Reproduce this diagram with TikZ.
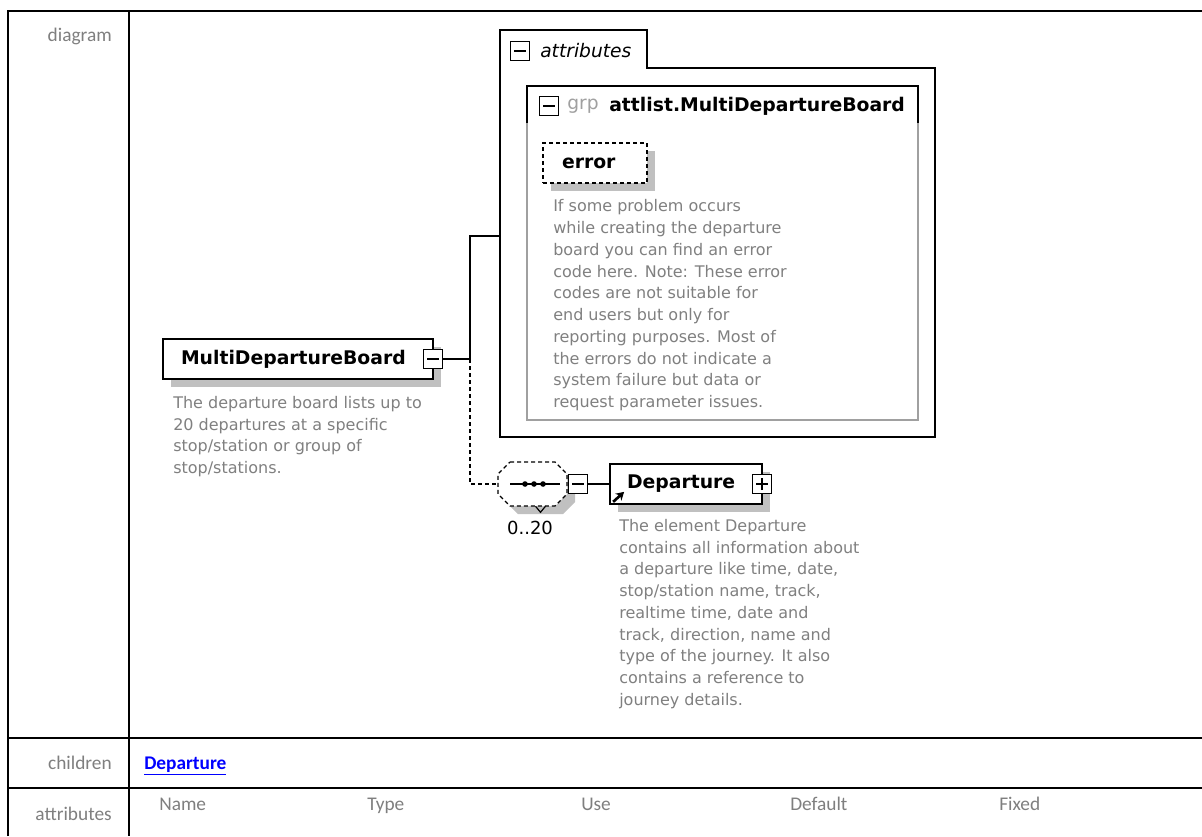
\documentclass[tikz,border=0pt]{standalone}
\usepackage{fontspec}
\setmainfont{DejaVu Sans}
\newfontfamily\tblfont{Carlito}
\usetikzlibrary{shadows,arrows.meta}
\definecolor{descgray}{HTML}{808080}
\definecolor{shgray}{HTML}{C0C0C0}
\definecolor{lblgray}{HTML}{7F7F7F}
\definecolor{grpgray}{HTML}{A0A0A0}
\definecolor{linkblue}{HTML}{0000FF}
\definecolor{frameline}{HTML}{A0A0A0}
\begin{document}
\begin{tikzpicture}[x=0.75pt,y=-0.75pt,
  shadowed/.style={drop shadow={shadow xshift=6pt,shadow yshift=-6pt,fill=shgray,opacity=1}},
  elembox/.style={draw=black,line width=1.3pt,fill=white,rectangle,inner ysep=0pt,align=left,
    minimum height=30pt,font=\fontsize{14.1}{16}\selectfont\bfseries,shadowed},
  dashbox/.style={dash pattern=on 3pt off 2.25pt},
  btn/.style={draw=black,line width=1.1pt,fill=white,rectangle,inner sep=0pt,minimum size=14pt},
  minusbtn/.style={btn,path picture={\draw[line width=1pt] ([xshift=2.5pt]path picture bounding box.west) -- ([xshift=-2.5pt]path picture bounding box.east);}},
  plusbtn/.style={btn,path picture={\draw[line width=1pt] ([xshift=2.5pt]path picture bounding box.west) -- ([xshift=-2.5pt]path picture bounding box.east);
      \draw[line width=1pt] ([yshift=2.5pt]path picture bounding box.south) -- ([yshift=-2.5pt]path picture bounding box.north);}},
  desc/.style={text=descgray,font=\fontsize{12}{16.3}\selectfont,align=left,anchor=north west,inner sep=0pt},
  tbllabel/.style={text=lblgray,font=\tblfont\fontsize{14.5}{17}\selectfont,inner sep=0pt},
  conn/.style={draw=black,line width=1.1pt},
  dconn/.style={conn,dash pattern=on 3pt off 2.25pt},
  rule/.style={line width=1.5pt,draw=black},
]
\fill[white] (0,0) rectangle (1202,836);
\useasboundingbox (0,0) rectangle (1202,836);

% ---------- table ----------
\draw[rule] (8,836) -- (8,11) -- (1202,11);
\draw[rule] (129,11) -- (129,836);
\draw[rule] (8,738) -- (1202,738);
\draw[rule] (8,788) -- (1202,788);

\node[tbllabel,anchor=base east] (lblDiagram) at (112,41) {diagram};
\node[tbllabel,anchor=base east] (lblChildren) at (112,769) {children};
\node[tbllabel,anchor=base east] (lblAttributes) at (112,820) {attributes};
\node[anchor=base west,inner sep=0pt,text=linkblue,font=\tblfont\fontsize{14.5}{17}\selectfont\bfseries] (childLink) at (144,769) {\underline{Departure}};
\node[tbllabel,anchor=base west] (hName) at (159,810) {Name};
\node[tbllabel,anchor=base west] (hType) at (367,810) {Type};
\node[tbllabel,anchor=base west] (hUse) at (581,810) {Use};
\node[tbllabel,anchor=base west] (hDefault) at (790,810) {Default};
\node[tbllabel,anchor=base west] (hFixed) at (999,810) {Fixed};

% ---------- attributes group ----------
\draw[line width=1.3pt,fill=white] (500,30) -- (647,30) -- (647,68) -- (935,68) -- (935,437) -- (500,437) -- cycle;
\coordinate (attrL) at (500,236);
\node[minusbtn] (attrBtn) at (520,51) {};
\node[anchor=west,inner sep=0pt,font=\fontsize{14}{16}\selectfont\itshape] (attrTitle) at (540,51) {attributes};

\draw[draw=frameline,line width=1pt] (527,86) rectangle (918,420);
\draw[line width=1.3pt] (527,123) -- (527,86) -- (918,86) -- (918,123);
\node[minusbtn] (grpBtn) at (549,106) {};
\node[anchor=west,inner sep=0pt,text=grpgray,font=\fontsize{14}{16}\selectfont] (grpLbl) at (567,106) {grp};
\node[anchor=west,inner sep=0pt,font=\fontsize{14.1}{16}\selectfont\bfseries] (grpName) at (609,106) {attlist.MultiDepartureBoard};

\node[elembox,dashbox,text width=49.5pt,inner xsep=14.25pt] (error) at (595,163) {error};
\node[desc] (errorDesc) at (553,199.5) {If some problem occurs\\while creating the departure\\board you can find an error\\code here. Note: These error\\codes are not suitable for\\end users but only for\\reporting purposes. Most of\\the errors do not indicate a\\system failure but data or\\request parameter issues.};

% ---------- root element ----------
\node[elembox,text width=175.5pt,inner xsep=13.5pt] (mdb) at (298,359) {MultiDepartureBoard};
\node[minusbtn] (mdbBtn) at (433,359) {};
\node[desc] (mdbDesc) at (173,396) {The departure board lists up to\\20 departures at a specific\\stop/station or group of\\stop/stations.};

% ---------- sequence ----------
\fill[shgray] (518,470) -- (563,470) -- (575,482) -- (575,502) -- (563,514) -- (518,514) -- (506,502) -- (506,482) -- cycle;
\node[inner sep=0pt,minimum width=51.75pt,minimum height=33pt] (seq) at (532.5,484) {};
\filldraw[fill=white,draw=black,line width=1pt,dashbox]
  (510,462) -- (555,462) -- (567,474) -- (567,494) -- (555,506) -- (510,506) -- (498,494) -- (498,474) -- cycle;
\draw[line width=1.1pt] (seq.center) ++(-22.5,0) -- ++(50,0);
\fill (seq.center) ++(-7.5,0) circle (2.1pt);
\fill (seq.center) ++(1.5,0) circle (2.1pt);
\fill (seq.center) ++(10.5,0) circle (2.1pt);
\draw[line width=0.9pt] (seq.south) ++(3,0) -- ++(5,6) -- ++(5,-6);
\node[minusbtn] (seqBtn) at (578,484) {};
\node[inner sep=0pt,font=\fontsize{13.5}{16}\selectfont] (occ) at (530,528) {0..20};

% ---------- Departure ----------
\node[elembox,text width=88.5pt,inner xsep=12.75pt] (dep) at (686,484) {Departure};
\node[plusbtn] (depBtn) at (762,484) {};
\draw[line width=2pt,-{Stealth[length=6pt,width=7pt]}] (dep.south west) ++(4,-3) -- ++(11,-10);
\node[desc] (depDesc) at (619,519) {The element Departure\\contains all information about\\a departure like time, date,\\stop/station name, track,\\realtime time, date and\\track, direction, name and\\type of the journey. It also\\contains a reference to\\journey details.};

% ---------- connectors ----------
\coordinate (jn) at (470,359);
\draw[conn] (mdbBtn.east) -- (jn) |- (attrL);
\draw[dconn] (jn) |- (seq.west);
\draw[conn] (seqBtn.east) -- (dep.west);
\end{tikzpicture}
\end{document}
